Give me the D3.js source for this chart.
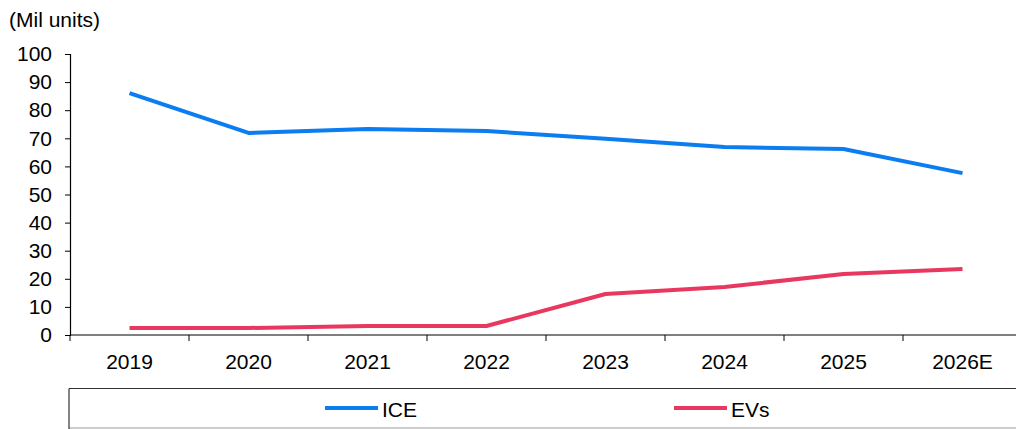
<!DOCTYPE html>
<html>
<head>
<meta charset="utf-8">
<script src="https://cdn.jsdelivr.net/npm/d3@7"></script>
<style>
  html, body { margin: 0; padding: 0; background: #fff; }
  svg { display: block; font-family: "Liberation Sans", Arial, sans-serif; }
</style>
</head>
<body>
<svg id="chart" width="1016" height="429"></svg>
<script>
// Vehicle sales by powertrain, million units
const years = ["2019", "2020", "2021", "2022", "2023", "2024", "2025", "2026E"];
const iceValues = [86.1, 71.9, 73.3, 72.6, 69.8, 66.9, 66.2, 57.6];
const evValues = [2.5, 2.5, 3.2, 3.2, 14.6, 17.1, 21.7, 23.5];
const yTicks = [0, 10, 20, 30, 40, 50, 60, 70, 80, 90, 100];
const seriesNames = ["ICE", "EVs"];
const seriesColors = ["#0b7df0", "#e8385f"];

const fontSize = 21;
const svg = d3.select("#chart");
const plotLeft = 70, plotRight = 1022, plotTop = 54, plotBottom = 335;

const x = d3.scaleBand().domain(years).range([plotLeft, plotRight]);
const y = d3.scaleLinear().domain([0, 100]).range([plotBottom, plotTop]);

// Unit label
svg.append("text").attr("x", 9).attr("y", 27)
  .attr("font-size", fontSize).attr("fill", "#000").text("(Mil units)");

// Y axis
const yAxis = svg.append("g").attr("transform", `translate(${plotLeft},0)`)
  .call(d3.axisLeft(y).tickValues(yTicks).tickSize(5).tickPadding(13));
yAxis.select(".domain").attr("stroke", "#000").attr("stroke-width", 1.2);
yAxis.selectAll(".tick line").attr("stroke", "#000");
yAxis.selectAll("text").attr("font-size", fontSize).attr("fill", "#000")
  .attr("font-family", "Liberation Sans, Arial, sans-serif");

// X axis: ticks on category boundaries
const xAxis = svg.append("g").attr("transform", `translate(0,${plotBottom})`);
xAxis.append("line").attr("x1", plotLeft).attr("x2", 1016)
  .attr("stroke", "#000").attr("stroke-width", 1.2);
xAxis.selectAll("line.tk").data(years).join("line").attr("class", "tk")
  .attr("x1", d => x(d)).attr("x2", d => x(d))
  .attr("y1", 0).attr("y2", 6).attr("stroke", "#000");
xAxis.selectAll("text").data(years).join("text")
  .attr("x", d => x(d) + x.bandwidth() / 2).attr("y", 34)
  .attr("text-anchor", "middle").attr("font-size", fontSize).attr("fill", "#000")
  .text(d => d);

// Lines
const line = d3.line()
  .x((d, i) => x(years[i]) + x.bandwidth() / 2)
  .y(d => y(d));

[iceValues, evValues].forEach((vals, i) => {
  svg.append("path").datum(vals)
    .attr("d", line).attr("fill", "none")
    .attr("stroke", seriesColors[i]).attr("stroke-width", 4)
    .attr("stroke-linejoin", "round");
});

// Legend box
const lg = svg.append("g");
lg.append("line").attr("x1", 69).attr("x2", 1016).attr("y1", 388.5).attr("y2", 388.5)
  .attr("stroke", "#333").attr("stroke-width", 1.2);
lg.append("line").attr("x1", 69).attr("x2", 1016).attr("y1", 428).attr("y2", 428)
  .attr("stroke", "#999").attr("stroke-width", 1.2);
lg.append("line").attr("x1", 69).attr("x2", 69).attr("y1", 388.5).attr("y2", 429)
  .attr("stroke", "#333").attr("stroke-width", 1.2);

const legendX = [325, 674];
seriesNames.forEach((name, i) => {
  lg.append("line").attr("x1", legendX[i]).attr("x2", legendX[i] + 53)
    .attr("y1", 408).attr("y2", 408)
    .attr("stroke", seriesColors[i]).attr("stroke-width", 4);
  lg.append("text").attr("x", legendX[i] + 57).attr("y", 417)
    .attr("font-size", fontSize).attr("fill", "#000").text(name);
});
</script>
</body>
</html>
